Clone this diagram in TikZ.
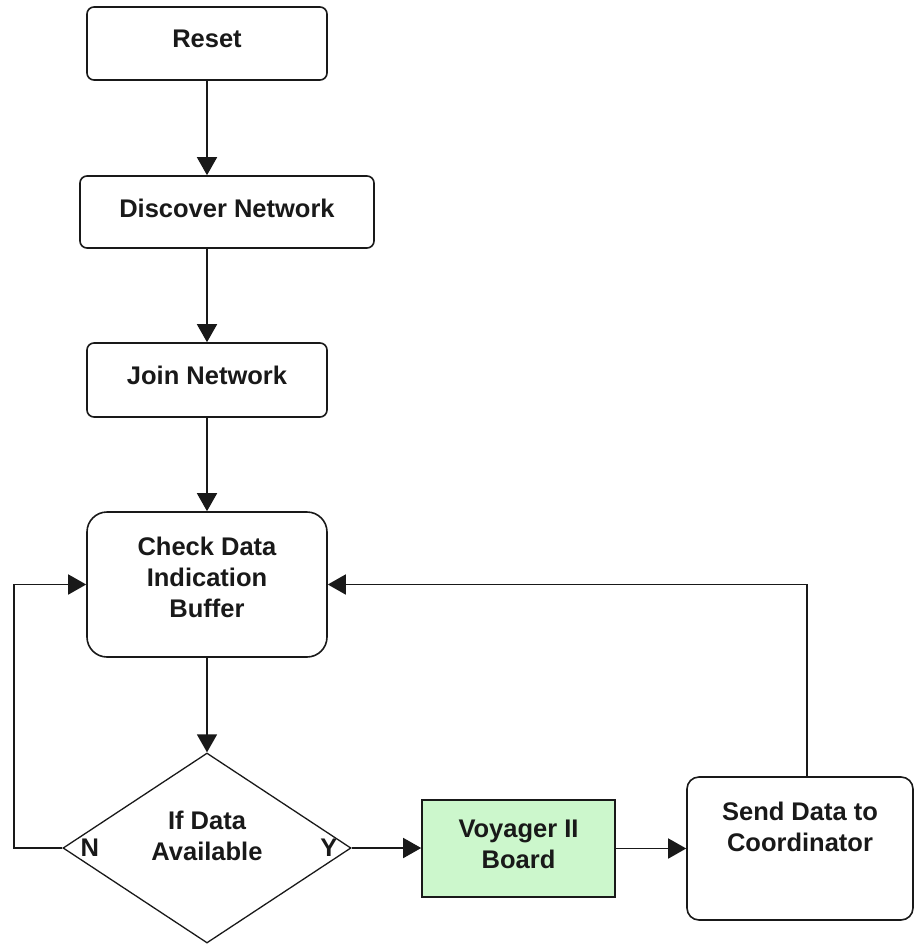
\documentclass[tikz,border=0pt]{standalone}
\usepackage{fontspec}
\setmainfont{Liberation Sans}
\usetikzlibrary{shapes.geometric,arrows.meta}
\definecolor{boardgreen}{RGB}{204,247,204}
\definecolor{ink}{RGB}{25,25,25}
\tikzset{
  txt/.style={font=\fontsize{25.5}{31}\selectfont\bfseries, text=ink, align=center, inner sep=0pt},
  proc/.style={draw=ink, line width=1.6pt, fill=white, inner sep=0pt},
  arr/.style={draw=ink, line width=1.6pt, -{Triangle[length=18pt,width=20pt]}},
  lbl/.style={font=\fontsize{25.5}{28}\selectfont\bfseries, text=ink, inner sep=0pt}
}
\begin{document}
\begin{tikzpicture}[x=1pt,y=-1pt]
\useasboundingbox (0,0) rectangle (916,945);

% process boxes
\node[proc, rounded corners=7pt, minimum width=240pt, minimum height=73pt] (reset) at (207,43.5) {};
\node[txt] (resettext) at (207,39) {Reset};
\node[proc, rounded corners=7pt, minimum width=294pt, minimum height=72pt] (discover) at (227,212) {};
\node[txt] (discovertext) at (227,208) {Discover Network};
\node[proc, rounded corners=7pt, minimum width=240pt, minimum height=74pt] (join) at (207,380) {};
\node[txt] (jointext) at (207,375.5) {Join Network};
\node[proc, rounded corners=20pt, minimum width=240pt, minimum height=145pt] (check) at (207,584.5) {};
\node[txt] (checktext) at (207,577) {Check Data\\Indication\\Buffer};

% decision
\node[draw=ink, line width=1.3pt, diamond, minimum width=288pt, minimum height=190pt, inner sep=0pt] (dec) at (207,848) {};
\node[txt] (dectext) at (207,836) {If Data\\Available};
\node[lbl, anchor=west] (no) at ([xshift=18pt]dec.west) {N};
\node[lbl, anchor=east] (yes) at ([xshift=-14pt]dec.east) {Y};

% board and send
\node[proc, fill=boardgreen, minimum width=193pt, minimum height=97pt] (voy) at (518.5,848.5) {};
\node[txt] (voytext) at (518.5,844) {Voyager II\\Board};
\node[proc, rounded corners=12pt, minimum width=226pt, minimum height=143pt] (send) at (800,848.5) {};
\node[txt] (sendtext) at (800,827) {Send Data to\\Coordinator};

% loop-back corner on the left
\coordinate (loopL) at (14,584.5);

% connectors
\draw[arr] (reset.south) -- (reset.south |- discover.north);
\draw[arr] (join.north |- discover.south) -- (join.north);
\draw[arr] (join) -- (check);
\draw[arr] (check) -- (dec);
\draw[arr] (dec.east) -- (dec.east -| voy.west);
\draw[arr] (voy.east) -- (voy.east -| send.west);
\draw[arr] (dec.west) -| (loopL) -- (check.west);
\draw[arr] ([xshift=7pt]send.north) |- (check.east);
\end{tikzpicture}
\end{document}
